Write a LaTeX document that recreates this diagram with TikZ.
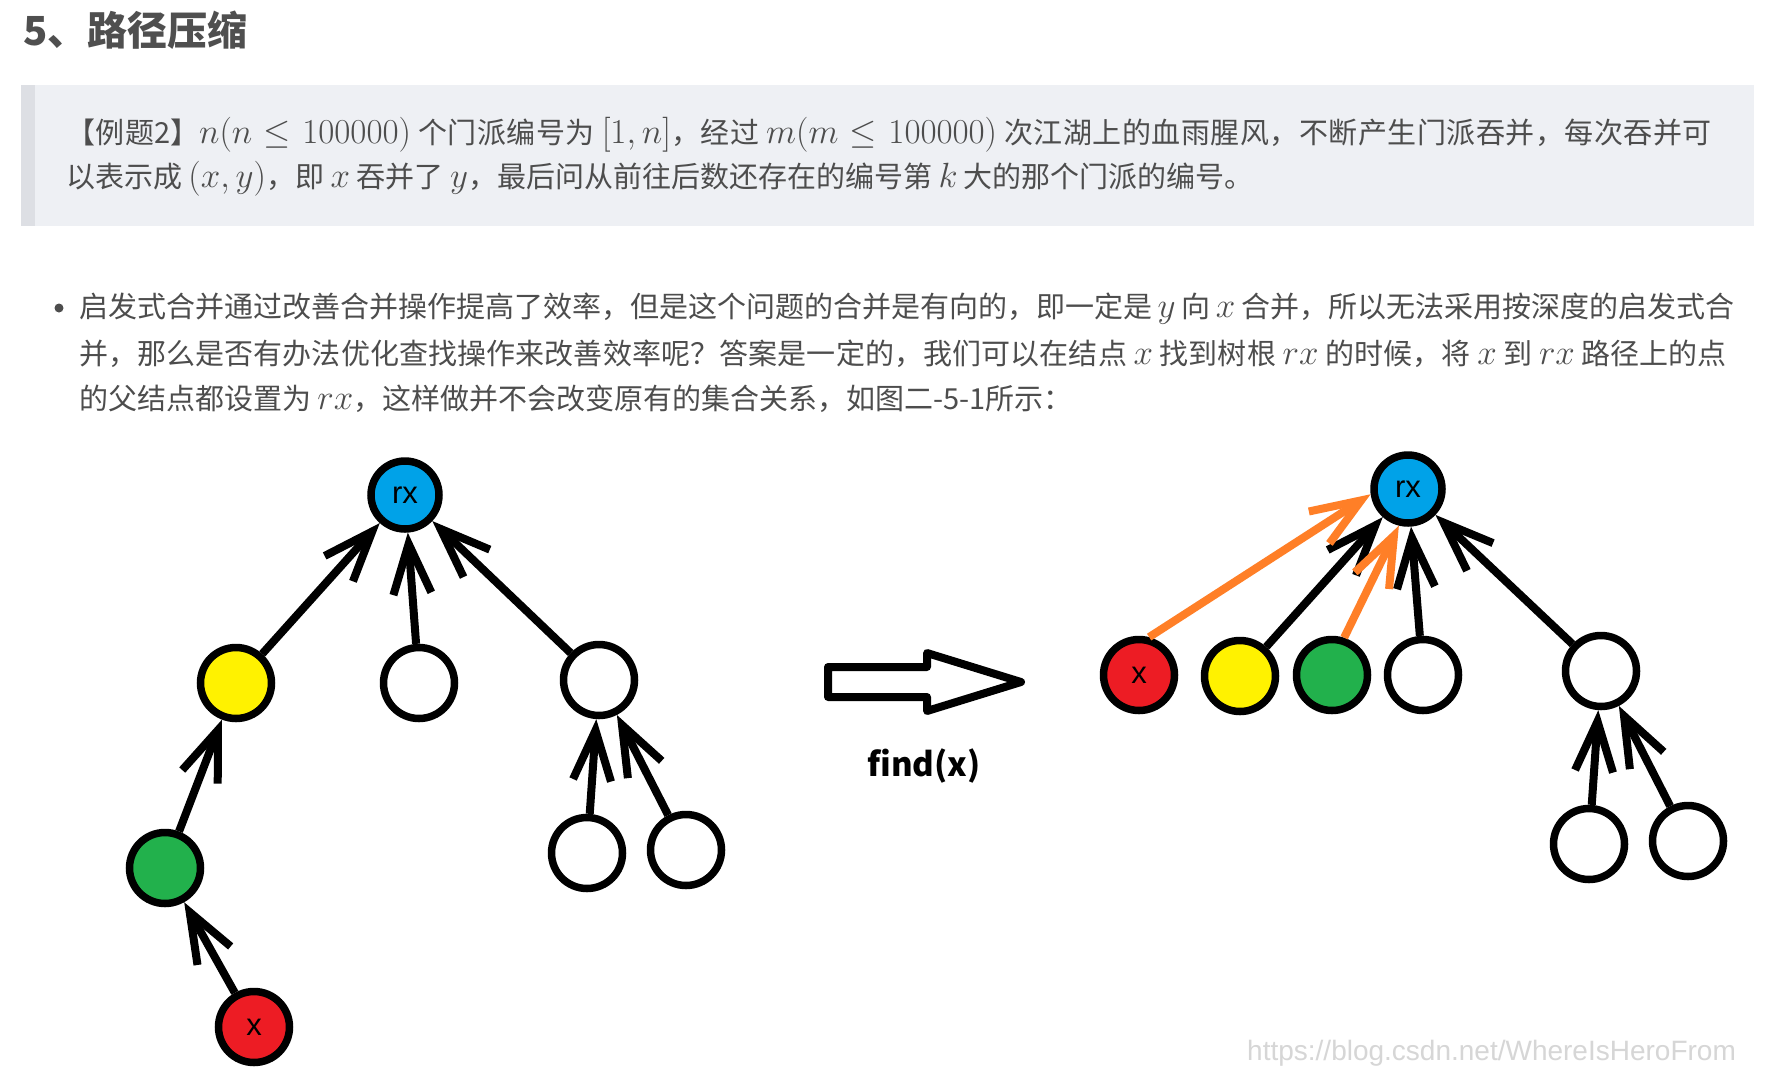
\RequirePackage{fix-cm}
\documentclass[tikz,border=0pt]{standalone}
\usepackage[no-math]{fontspec}
\setmainfont{Noto Sans CJK SC}
\newfontfamily\lsans{Liberation Sans}
\usetikzlibrary{arrows.meta}
\newXeTeXintercharclass\cjkcls
\count255="3000
\loop\XeTeXcharclass\count255=\cjkcls \advance\count255 by 1 \ifnum\count255<"A000 \repeat
\count255="FF00
\loop\XeTeXcharclass\count255=\cjkcls \advance\count255 by 1 \ifnum\count255<"FFF0 \repeat
\XeTeXinterchartoks\cjkcls\cjkcls={\hskip0pt plus 3pt\relax}
\newcommand\jline[2]{\hbox to #1{\XeTeXinterchartokenstate=1 #2}}
\definecolor{textgray}{HTML}{4D4D4D}
\definecolor{titlegray}{HTML}{4F4F4F}
\definecolor{quotebg}{HTML}{EEF0F4}
\definecolor{quotebar}{HTML}{DDDFE4}
\definecolor{rxblue}{HTML}{00A2E8}
\definecolor{nyellow}{HTML}{FFF200}
\definecolor{ngreen}{HTML}{22B14C}
\definecolor{nred}{HTML}{ED1C24}
\definecolor{eorange}{HTML}{FF7F27}
\definecolor{wmark}{HTML}{D6D6D6}
\newcommand\mth[1]{{\fontsize{35pt}{40pt}\selectfont$#1$}}
\begin{document}
\begin{tikzpicture}[x=1pt,y=-1pt,
  txt/.style={font=\fontsize{29pt}{46pt}\selectfont, text=textgray, inner sep=0pt, outer sep=0pt, anchor=base west},
  nd/.style={circle, draw=black, line width=7.5pt, minimum size=71pt, inner sep=0pt, fill=white,
             font=\lsans\fontsize{31pt}{34pt}\selectfont},
  rxnd/.style={nd, fill=rxblue, minimum size=68pt},
  edgeb/.style={draw=black, line width=8pt, -{Straight Barb[length=50pt,width=38pt]}},
  edgeo/.style={draw=eorange, line width=8pt, -{Straight Barb[length=50pt,width=38pt]}},
]
\useasboundingbox (0,0) rectangle (1772,1074);
\fill[white] (0,0) rectangle (1772,1074);

% title
\node[font=\fontsize{40pt}{46pt}\selectfont\bfseries, text=titlegray, inner sep=0pt, anchor=west] (title) at (23,30) {5、路径压缩};

% quote box
\fill[quotebg] (21,85) rectangle (1754,226);
\fill[quotebar] (21,85) rectangle (35,226);
\node[txt] (q1) at (66,143) {\jline{1646pt}{【例题2】\mth{n(n\le 100000)} 个门派编号为 \mth{[1,n]}，经过 \mth{m(m\le 100000)} 次江湖上的血雨腥风，不断产生门派吞并，每次吞并可}};
\node[txt] (q2) at (66,187) {以表示成 \mth{(x,y)}，即 \mth{x} 吞并了 \mth{y}，最后问从前往后数还存在的编号第 \mth{k} 大的那个门派的编号。};

% bullet paragraph
\node[circle, fill=textgray, minimum size=9pt, inner sep=0pt] (dot) at (59,308) {};
\node[txt] (b1) at (79,317) {\jline{1655pt}{启发式合并通过改善合并操作提高了效率，但是这个问题的合并是有向的，即一定是 \mth{y} 向 \mth{x} 合并，所以无法采用按深度的启发式合}};
\node[txt] (b2) at (79,364) {\jline{1648pt}{并，那么是否有办法优化查找操作来改善效率呢？答案是一定的，我们可以在结点 \mth{x} 找到树根 \mth{rx} 的时候，将 \mth{x} 到 \mth{rx} 路径上的点}};
\node[txt] (b3) at (79,409) {的父结点都设置为 \mth{rx}，这样做并不会改变原有的集合关系，如图二-5-1所示：};

% left tree
\node[rxnd] (Lrx) at (405,495) {rx};
\node[nd, fill=nyellow] (Ly) at (236,683) {};
\node[nd] (Lw1) at (419,683) {};
\node[nd] (Lw2) at (599,680) {};
\node[nd, fill=ngreen] (Lg) at (165,868) {};
\node[nd, fill=nred] (Lx) at (254,1027) {x};
\node[nd] (Lw3) at (587,853) {};
\node[nd] (Lw4) at (686,850) {};
\draw[edgeb] (Ly) -- (Lrx);
\draw[edgeb] (Lw1) -- (Lrx);
\draw[edgeb] (Lw2) -- (Lrx);
\draw[edgeb] (Lg) -- (Ly);
\draw[edgeb] (Lx) -- (Lg);
\draw[edgeb] (Lw3) -- (Lw2);
\draw[edgeb] (Lw4) -- (Lw2);

% hollow arrow and label
\draw[line width=8pt, line join=round] (828,667) -- (927,667) -- (927,653) -- (1021,682) -- (927,711) -- (927,697) -- (828,697) -- cycle;
\node[font=\fontsize{33pt}{38pt}\selectfont\bfseries, text=black, inner sep=0pt] (find) at (924,766) {find(x)};

% right tree
\node[rxnd] (Rrx) at (1408,489) {rx};
\node[nd, fill=nred] (Rx) at (1139,675) {x};
\node[nd, fill=nyellow] (Ry) at (1240,676) {};
\node[nd, fill=ngreen] (Rg) at (1332,675) {};
\node[nd] (Rw1) at (1423,675) {};
\node[nd] (Rw2) at (1601,671) {};
\node[nd] (Rw3) at (1589,844) {};
\node[nd] (Rw4) at (1688,841) {};
\draw[edgeb] (Ry) -- (Rrx);
\draw[edgeb] (Rw1) -- (Rrx);
\draw[edgeb] (Rw2) -- (Rrx);
\draw[edgeb] (Rw3) -- (Rw2);
\draw[edgeb] (Rw4) -- (Rw2);
\draw[edgeo] (Rx.75) -- (Rrx.188);
\draw[edgeo] (Rg.72) -- (Rrx.256);

% watermark
\node[font=\lsans\fontsize{28pt}{32pt}\selectfont, text=wmark, inner sep=0pt, anchor=west] (wm) at (1247,1053) {https://blog.csdn.net/WhereIsHeroFrom};
\end{tikzpicture}
\end{document}
